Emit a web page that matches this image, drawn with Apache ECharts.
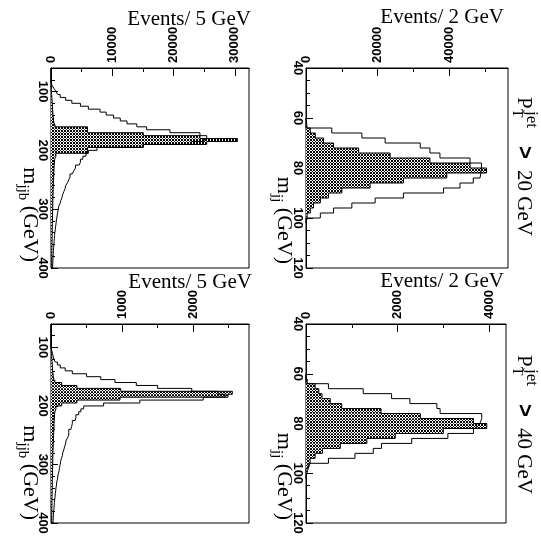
<!DOCTYPE html>
<html>
<head>
<meta charset="utf-8">
<script src="https://cdn.jsdelivr.net/npm/echarts@6.0.0/dist/echarts.min.js"></script>
<style>
html,body{margin:0;padding:0;background:#ffffff;}
#chart{width:541px;height:536px;}
</style>
</head>
<body>
<div id="chart"></div>
<script>
// ---------------- data ----------------
// W-mass panels: bin lower edges (GeV), bin width 2 GeV
const W_BIN_LOW = [60,62,64,66,68,70,72,74,76,78,80,82,84,86,88,90,92,94,96,98,100];
// top-mass panels: bin lower edges (GeV), bin width 5 GeV
const T_BIN_LOW = [60,65,70,75,80,85,90,95,100,105,
  110,115,120,125,130,135,140,145,150,155,
  160,165,170,175,180,185,190,195,200,205,
  210,215,220,225,230,235,240,245,250,255,
  260,265,270,275,280,285,290,295,300,305,
  310,315,320,325,330,335,340,345,350,355,
  360,365,370,375,380,385,390,395];

// m_jj, pT(jet) > 20 GeV
const MJJ20_HATCH = [150,300,1200,2600,4900,7700,14700,23500,34600,45800,50400,39300,27200,17900,10000,6300,4000,2100,1200,300,0];
const MJJ20_OPEN  = [0,0,7200,15600,22100,31900,34600,37400,45800,49000,48800,48600,46700,43000,38400,27200,19300,12800,7700,4000,0];
// m_jj, pT(jet) > 40 GeV
const MJJ40_HATCH = [0,40,200,280,350,530,780,1640,2500,3660,3950,3000,1950,1330,750,360,200,90,50,20,0];
const MJJ40_OPEN  = [0,0,490,1250,1870,2270,2860,2930,3840,3800,3730,3660,3100,2310,1650,1470,1070,490,50,0,0];
// m_jjb, pT(jet) > 20 GeV
const MJJB20_HATCH = [0,0,0,0,0,0,30,60,100,130,
  170,200,230,260,300,330,380,430,520,700,
  5950,5950,15060,24300,30400,25400,15060,5950,5950,800,
  600,560,520,500,470,450,430,420,400,380,
  370,350,340,320,310,300,290,270,260,250,
  240,230,220,210,200,195,185,180,170,160,
  155,150,140,135,130,125,120,115];
const MJJB20_OPEN = [0,0,0,0,0,200,500,800,1100,1500,
  2400,3400,4800,6100,8000,9000,10200,11300,12400,14000,
  15600,19400,24300,25400,25000,22900,15000,7500,6100,5700,
  5200,4800,4600,4000,3700,3500,3100,2900,2700,2400,
  2300,2100,1900,1800,1600,1500,1250,1200,1100,1000,
  950,860,820,740,700,620,580,540,500,470,
  430,400,380,340,320,300,280,260];
// m_jjb, pT(jet) > 40 GeV
const MJJB40_HATCH = [0,0,0,0,0,0,0,0,5,8,
  10,12,15,18,20,24,28,32,40,60,
  150,365,980,2550,2490,970,365,150,70,55,
  50,48,45,44,42,40,38,37,35,34,
  32,30,29,28,27,26,25,24,23,22,
  21,20,19,18,18,17,16,16,15,14,
  14,13,12,12,11,11,10,10];
const MJJB40_OPEN = [0,0,0,0,0,0,0,0,10,20,
  30,40,60,90,130,200,300,500,700,900,
  1200,1500,1980,2350,2450,2140,1250,740,460,420,
  390,350,340,300,290,280,250,250,230,210,
  205,190,180,165,160,145,135,130,120,115,
  105,95,92,80,78,70,66,60,58,52,
  48,45,42,38,36,32,30,28];

// tick values
const W_MASS_MAJOR = [40,60,80,100,120];
const W_MASS_MINOR = [45,50,55,65,70,75,85,90,95,105,110,115];
const T_MASS_MAJOR = [100,200,300,400];
const T_MASS_MINOR = [80,120,140,160,180,220,240,260,280,320,340,360,380];
const CNT20W_MAJOR = [0,20000,40000];   const CNT20W_MINOR = [10000,30000,50000];
const CNT40W_MAJOR = [0,2000,4000];     const CNT40W_MINOR = [1000,3000];
const CNT20T_MAJOR = [0,10000,20000,30000]; const CNT20T_MINOR = [5000,15000,25000];
const CNT40T_MAJOR = [0,1000,2000];     const CNT40T_MINOR = [500,1500,2500];

// ---------------- layout ----------------
const PANELS = [
  {rect:{left:306, top:68,  width:202, height:200}, mass:[40,120], cmax:56400, bins:W_BIN_LOW, bw:2,
   hatch:MJJ20_HATCH, open:MJJ20_OPEN, mMaj:W_MASS_MAJOR, mMin:W_MASS_MINOR, cMaj:CNT20W_MAJOR, cMin:CNT20W_MINOR},
  {rect:{left:306, top:324, width:200, height:199}, mass:[40,120], cmax:4370, bins:W_BIN_LOW, bw:2,
   hatch:MJJ40_HATCH, open:MJJ40_OPEN, mMaj:W_MASS_MAJOR, mMin:W_MASS_MINOR, cMaj:CNT40W_MAJOR, cMin:CNT40W_MINOR},
  {rect:{left:51, top:68,  width:198, height:200}, mass:[60,400], cmax:32300, bins:T_BIN_LOW, bw:5,
   hatch:MJJB20_HATCH, open:MJJB20_OPEN, mMaj:T_MASS_MAJOR, mMin:T_MASS_MINOR, cMaj:CNT20T_MAJOR, cMin:CNT20T_MINOR},
  {rect:{left:51, top:324, width:198, height:199}, mass:[60,400], cmax:2785, bins:T_BIN_LOW, bw:5,
   hatch:MJJB40_HATCH, open:MJJB40_OPEN, mMaj:T_MASS_MAJOR, mMin:T_MASS_MINOR, cMaj:CNT40T_MAJOR, cMin:CNT40T_MINOR}
];

// cross-hatch pattern (3 px period)
const hc = document.createElement('canvas');
hc.width = 3; hc.height = 3;
const hx = hc.getContext('2d');
const im = hx.createImageData(3, 3);
for (let y = 0; y < 3; y++) for (let x = 0; x < 3; x++) {
  const blk = ((x + y) % 3 === 0) || (((x - y) % 3 + 3) % 3 === 0);
  const i = (y * 3 + x) * 4, c = blk ? 0 : 255;
  im.data[i] = c; im.data[i+1] = c; im.data[i+2] = c; im.data[i+3] = 255;
}
hx.putImageData(im, 0, 0);
const HATCH = {image: hc, repeat: 'repeat'};

const LBL = {color:'#000', fontFamily:'Liberation Sans', fontWeight:'bold', fontSize:13};
const BLACK = {color:'#000', width:1};
const plainNum = v => String(Math.round(v));

function stepPoints(lows, w, vals) {
  const pts = [[0, lows[0]]];
  lows.forEach((lo, i) => { pts.push([vals[i], lo]); pts.push([vals[i], lo + w]); });
  pts.push([0, lows[lows.length - 1] + w]);
  return pts;
}

const grid = [], xAxis = [], yAxis = [], series = [];
PANELS.forEach((p, k) => {
  const gMain = 2 * k, gMin = 2 * k + 1;
  grid.push(Object.assign({show:true, borderColor:'#000', borderWidth:1, backgroundColor:'transparent',
    containLabel:false, outerBoundsMode:'none'}, p.rect));
  grid.push(Object.assign({show:false, containLabel:false, outerBoundsMode:'none'}, p.rect));
  xAxis.push({gridIndex:gMain, type:'value', position:'top', min:0, max:p.cmax,
    axisLine:{show:true, lineStyle:BLACK}, splitLine:{show:false},
    axisTick:{show:true, inside:true, length:8, lineStyle:BLACK, customValues:p.cMaj},
    axisLabel:Object.assign({show:true, rotate:-90, margin:5, customValues:p.cMaj, formatter:plainNum}, LBL)});
  xAxis.push({gridIndex:gMin, type:'value', position:'top', min:0, max:p.cmax,
    axisLine:{show:false}, splitLine:{show:false},
    axisTick:{show:true, inside:true, length:4, lineStyle:BLACK, customValues:p.cMin},
    axisLabel:{show:false}});
  yAxis.push({gridIndex:gMain, type:'value', position:'left', inverse:true, min:p.mass[0], max:p.mass[1],
    axisLine:{show:true, lineStyle:BLACK}, splitLine:{show:false},
    axisTick:{show:true, inside:true, length:7, lineStyle:BLACK, customValues:p.mMaj},
    axisLabel:Object.assign({show:true, rotate:-90, margin:2, customValues:p.mMaj, formatter:plainNum}, LBL)});
  yAxis.push({gridIndex:gMin, type:'value', position:'left', inverse:true, min:p.mass[0], max:p.mass[1],
    axisLine:{show:false}, splitLine:{show:false},
    axisTick:{show:true, inside:true, length:4, lineStyle:BLACK, customValues:p.mMin},
    axisLabel:{show:false}});

  series.push({type:'custom', xAxisIndex:gMain, yAxisIndex:gMain, z:2, silent:true, clip:true,
    encode:{x:0, y:[1,2]},
    data:p.bins.map((lo, i) => [p.hatch[i], lo, lo + p.bw]),
    renderItem:(params, api) => {
      const v = api.value(0);
      if (!v) return null;
      const a = api.coord([0, api.value(1)]);
      const b = api.coord([v, api.value(2)]);
      return {type:'rect', shape:{x:a[0], y:a[1], width:b[0]-a[0], height:b[1]-a[1]},
        style:{fill:HATCH, stroke:null}};
    }});
  series.push({type:'line', xAxisIndex:gMain, yAxisIndex:gMain, z:3, silent:true,
    symbol:'none', showSymbol:false, lineStyle:BLACK, data:stepPoints(p.bins, p.bw, p.hatch)});
  series.push({type:'line', xAxisIndex:gMain, yAxisIndex:gMain, z:3, silent:true,
    symbol:'none', showSymbol:false, lineStyle:BLACK, data:stepPoints(p.bins, p.bw, p.open)});
});

// ---------------- texts ----------------
const SERIF = 'Liberation Serif';
function plain(x, y, text, size, align, rot, extra) {
  return Object.assign({type:'text', x:x, y:y, rotation:rot || 0, silent:true,
    style:{text:text, fill:'#000', font:size + 'px "' + SERIF + '"',
      align:align, textAlign:align, verticalAlign:'middle', textVerticalAlign:'middle'}}, extra || {});
}
function massTitle(x, y, sub) {
  return {type:'text', x:x, y:y, rotation:-Math.PI/2, silent:true,
    style:{text:'{a|m}{b|' + sub + '}{a| (GeV)}', fill:'#000',
      align:'right', textAlign:'right', verticalAlign:'middle', textVerticalAlign:'middle',
      rich:{a:{fontFamily:SERIF, fontSize:22, lineHeight:30},
            b:{fontFamily:SERIF, fontSize:15, lineHeight:15, verticalAlign:'bottom'}}}};
}
function ptTitle(x, y0, value) {
  const R = -Math.PI/2;
  return [
    plain(x, y0, 'P', 21, 'left', R),
    plain(x - 7, y0 + 12, 'T', 14, 'left', R),
    plain(x + 7, y0 + 14, 'jet', 17, 'left', R),
    {type:'text', x:x, y:y0 + 49, rotation:R, silent:true,
      style:{text:'>', fill:'#000', font:'bold 22px "Liberation Sans"',
        align:'left', textAlign:'left', verticalAlign:'middle', textVerticalAlign:'middle'}},
    plain(x, y0 + 73, value + ' GeV', 21, 'left', R)
  ];
}
const graphic = [
  plain(504, 17, 'Events/ 2 GeV', 21, 'right'),
  plain(504, 281, 'Events/ 2 GeV', 21, 'right'),
  plain(251, 19, 'Events/ 5 GeV', 21, 'right'),
  plain(252, 282, 'Events/ 5 GeV', 21, 'right'),
  massTitle(284, 264, 'jj'),
  massTitle(284, 520, 'jj'),
  massTitle(30, 262, 'jjb'),
  massTitle(30, 520, 'jjb')
].concat(ptTitle(524, 97, '20'), ptTitle(524, 355, '40'));

const chart = echarts.init(document.getElementById('chart'), null, {renderer:'canvas'});
chart.setOption({
  animation:false,
  backgroundColor:'#ffffff',
  grid:grid, xAxis:xAxis, yAxis:yAxis, series:series, graphic:graphic
});
</script>
</body>
</html>
